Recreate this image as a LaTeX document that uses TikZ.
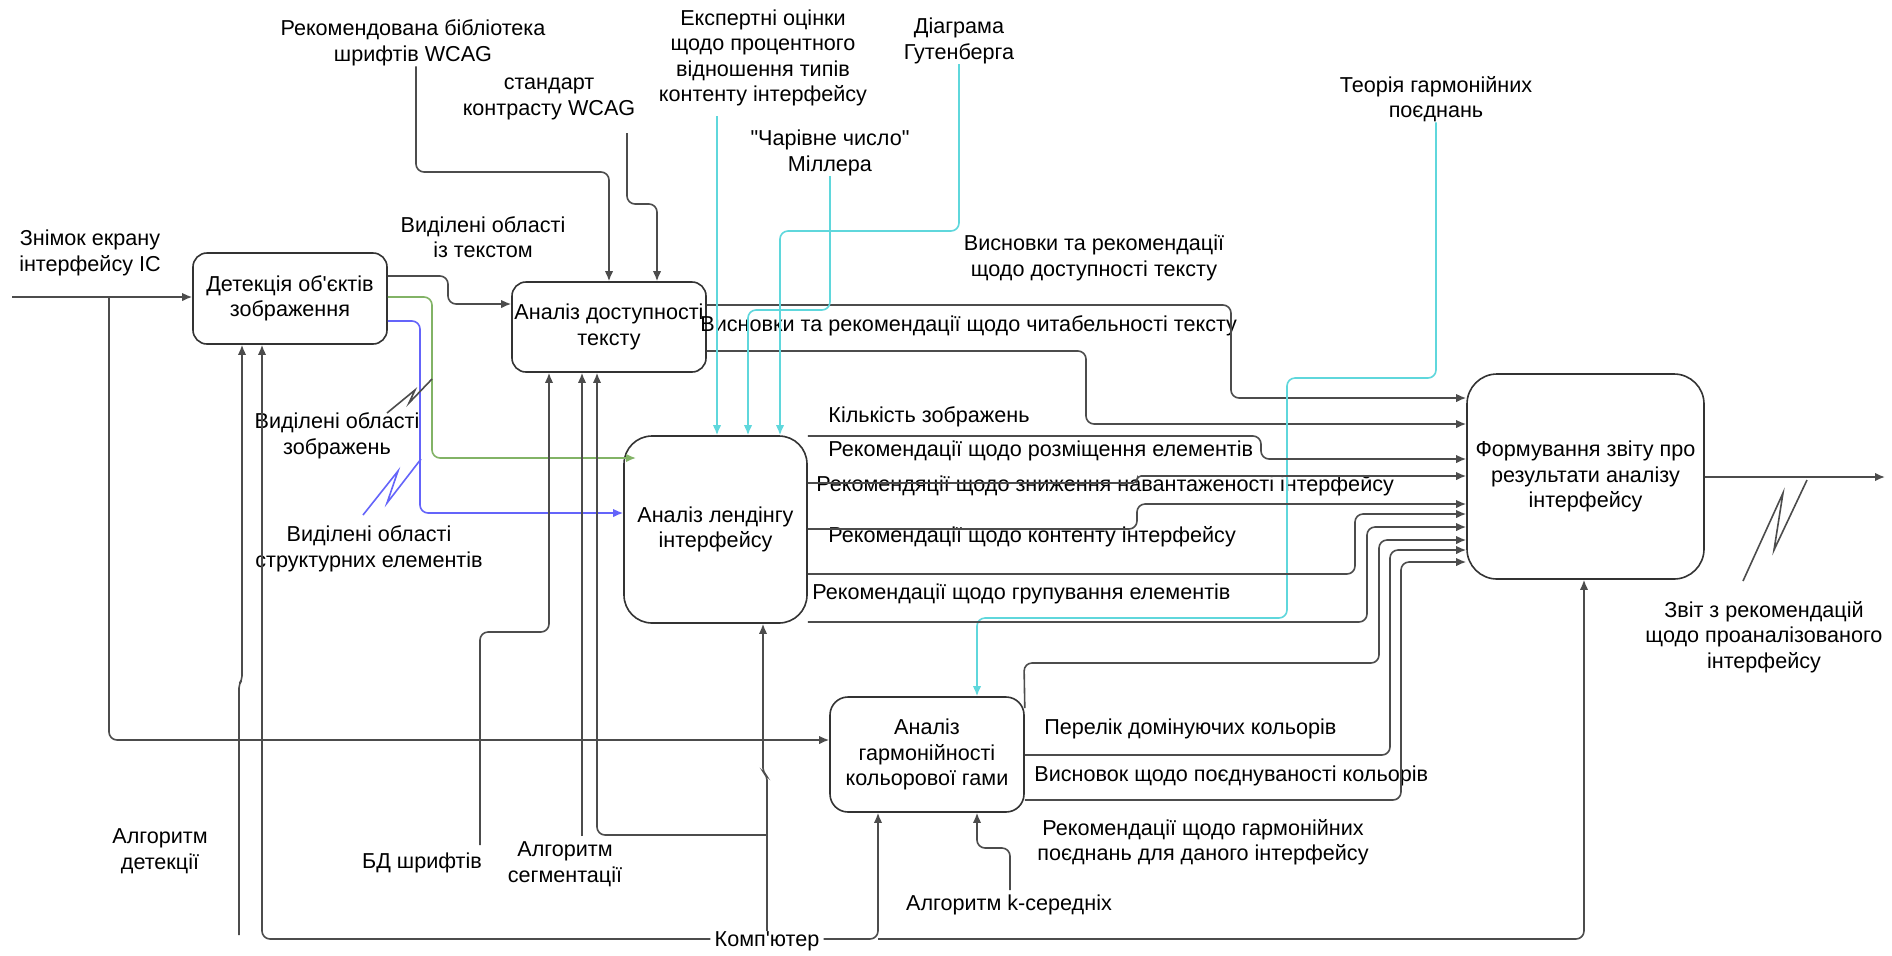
\documentclass[tikz,border=0pt]{standalone}
\usepackage{fontspec}
\setmainfont{Liberation Sans}[Ligatures=TeXOff]
\usetikzlibrary{arrows.meta}
\definecolor{cyanc}{RGB}{95,215,220}
\definecolor{greenc}{RGB}{130,179,102}
\definecolor{bluec}{RGB}{100,100,250}
\newcommand{\lblfont}{\fontsize{10.8}{12.75}\selectfont}
\begin{document}
\begin{tikzpicture}[x=0.5pt,y=-0.5pt,
  box/.style={draw=black!80, line width=0.8pt, align=center, font=\lblfont, inner sep=0pt},
  lbl/.style={align=center, font=\lblfont, inner sep=0pt},
  conn/.style={draw=black!70, line width=0.8pt, rounded corners=4pt},
  arr/.style={conn, -{Latex[length=5pt,width=4.2pt]}},
  cy/.style={draw=cyanc, line width=0.8pt, rounded corners=4pt, -{Latex[length=5pt,width=4.2pt]}},
  zig/.style={line width=0.8pt}]
\useasboundingbox (0,0) rectangle (1892,955);
\fill[white] (0,0) rectangle (1892,955);

% boxes
\node[box, minimum width=97pt, minimum height=45.5pt, rounded corners=7pt] (b1) at (290,298.5) {Детекція об'єктів\\зображення};
\node[box, minimum width=97pt, minimum height=45pt, rounded corners=7pt] (b2) at (609,327) {Аналіз доступності\\тексту};
\node[box, minimum width=91.5pt, minimum height=93.5pt, rounded corners=14pt] (b3) at (715.5,529.5) {Аналіз лендінгу\\інтерфейсу};
\node[box, minimum width=97pt, minimum height=57.5pt, rounded corners=9pt] (b4) at (927,754.5) {Аналіз\\гармонійності\\кольорової гами};
\node[box, minimum width=118.5pt, minimum height=102.5pt, rounded corners=15pt] (b5) at (1585.5,476.5) {Формування звіту про\\результати аналізу\\інтерфейсу};

% labels
\node[lbl] (lIn) at (90,253) {Знімок екрану\\інтерфейсу ІС};
\node[lbl] (lTxt) at (483,237) {Виділені області\\із текстом};
\node[lbl] (lImg) at (337,436) {Виділені області\\зображень};
\node[lbl] (lStr) at (369,549) {Виділені області\\структурних елементів};
\node[lbl] (lLib) at (413,43) {Рекомендована бібліотека\\шрифтів WCAG};
\node[lbl] (lCon) at (549,99) {стандарт\\контрасту WCAG};
\node[lbl] (lExp) at (763,58) {Експертні оцінки\\щодо процентного\\відношення типів\\контенту інтерфейсу};
\node[lbl] (lGut) at (959,41) {Діаграма\\Гутенберга};
\node[lbl] (lMil) at (830,153) {"Чарівне число"\\Міллера};
\node[lbl] (lHar) at (1436,99) {Теорія гармонійних\\поєднань};
\node[lbl] (lAcc) at (1094,258) {Висновки та рекомендації\\щодо доступності тексту};
\node[lbl, anchor=west] (lRead) at (700,326) {Висновки та рекомендації щодо читабельності тексту};
\node[lbl, anchor=west] (lCnt) at (828,417) {Кількість зображень};
\node[lbl, anchor=west] (lPlc) at (828,451) {Рекомендації щодо розміщення елементів};
\node[lbl, anchor=west] (lLoad) at (816,486) {Рекомендяції щодо зниження навантаженості інтерфейсу};
\node[lbl, anchor=west] (lCont) at (828,537) {Рекомендації щодо контенту інтерфейсу};
\node[lbl, anchor=west] (lGrp) at (812,594) {Рекомендації щодо групування елементів};
\node[lbl, anchor=west] (lDom) at (1044,729) {Перелік домінуючих кольорів};
\node[lbl, anchor=west] (lHarm) at (1034,776) {Висновок щодо поєднуваності кольорів};
\node[lbl] (lRecH) at (1203,842) {Рекомендації щодо гармонійних\\поєднань для даного інтерфейсу};
\node[lbl] (lOut) at (1764,637) {Звіт з рекомендацій\\щодо проаналізованого\\інтерфейсу};
\node[lbl] (lDet) at (160,851) {Алгоритм\\детекції};
\node[lbl] (lBD) at (422,863) {БД шрифтів};
\node[lbl] (lSeg) at (565,864) {Алгоритм\\сегментації};
\node[lbl] (lKm) at (1009,905) {Алгоритм k-середніх};

% input
\coordinate (inS) at (12,297);
\draw[arr] (inS) -- (b1.west |- inS);
\draw[arr] (109,297) -- (109,740) -- (b4.west |- 0,740);

% box1 outputs
\draw[arr] (b1.east |- 0,276) -- (448,276) -- (448,304) -- (b2.west |- 0,304);
\draw[conn, draw=greenc, -{Latex[length=5pt,width=4.2pt]}] (b1.east |- 0,297) -- (432,297) -- (432,458) -- (636,458);
\draw[conn, draw=bluec, -{Latex[length=5pt,width=4.2pt]}] (b1.east |- 0,321) -- (420,321) -- (420,513) -- (b3.west |- 0,513);
\draw[zig, black!70] (387,413) -- (415,390) -- (409,403) -- (432,379);
\draw[zig, bluec] (363,515) -- (398,471) -- (387,503) -- (421,459);

% box2 controls
\draw[arr] (lLib.south -| 416,0) -- (416,172) -- (609,172) -- (b2.north -| 609,0);
\draw[arr] (627,133) -- (627,204) -- (657,204) -- (b2.north -| 657,0);

% box2 outputs
\draw[arr] (b2.east |- 0,305) -- (1231,305) -- (1231,398) -- (b5.west |- 0,398);
\draw[arr] (b2.east |- 0,351) -- (1086,351) -- (1086,424) -- (b5.west |- 0,424);

% box3 controls (cyan)
\draw[cy] (717,116) -- (b3.north -| 717,0);
\draw[cy] (lMil.south -| 830,0) -- (830,310) -- (748,310) -- (b3.north -| 748,0);
\draw[cy] (lGut.south -| 959,0) -- (959,231) -- (780,231) -- (b3.north -| 780,0);
\draw[cy] (lHar.south -| 1436,0) -- (1436,378) -- (1287,378) -- (1287,618) -- (977,618) -- (b4.north -| 977,0);

% box3 outputs
\draw[arr] (b3.east |- 0,436) -- (1261,436) -- (1261,459) -- (b5.west |- 0,459);
\draw[arr, rounded corners=2pt] (b3.east |- 0,483) -- (1137,483) -- (1137,476) -- (b5.west |- 0,476);
\draw[arr] (b3.east |- 0,529) -- (1137,529) -- (1137,504) -- (b5.west |- 0,504);
\draw[arr] (b3.east |- 0,574) -- (1355,574) -- (1355,514) -- (b5.west |- 0,514);
\draw[arr] (b3.east |- 0,622) -- (1367,622) -- (1367,527) -- (b5.west |- 0,527);

% box4 outputs
\draw[arr] (b4.east |- 0,708) -- (1024,663) -- (1379,663) -- (1379,540) -- (b5.west |- 0,540);
\draw[arr] (b4.east |- 0,755) -- (1390,755) -- (1390,550) -- (b5.west |- 0,550);
\draw[arr] (b4.east |- 0,800) -- (1401,800) -- (1401,562) -- (b5.west |- 0,562);

% box5 output
\draw[arr] (b5.east |- 0,477) -- (1885,477);
\draw[zig, black!70] (1743,581) -- (1783,493) -- (1774,550) -- (1807,480);

% mechanisms
\draw[arr, rounded corners=2pt] (239,935) -- (239,684) -- (242,680) -- (b1.south -| 242,0);
\draw[arr] (480,845) -- (480,632) -- (549,632) -- (b2.south -| 549,0);
\draw[arr] (582,836) -- (b2.south -| 582,0);
\draw[arr] (1010,890) -- (1010,848) -- (977,848) -- (b4.south -| 977,0);

% computer
\node[lbl, fill=white, inner xsep=2pt] (lPC) at (767,941) {Комп'ютер};
\draw[arr] (lPC.west |- 0,939) -- (262,939) -- (b1.south -| 262,0);
\draw[arr] (lPC.east |- 0,939) -- (878,939) -- (b4.south -| 878,0);
\draw[arr] (878,939) -- (1584,939) -- (b5.south -| 1584,0);
\draw[arr, rounded corners=2pt] (lPC.north -| 767,0) -- (767,776) -- (763,772) -- (b3.south -| 763,0);
\draw[arr] (767,835) -- (597,835) -- (b2.south -| 597,0);
\end{tikzpicture}
\end{document}
